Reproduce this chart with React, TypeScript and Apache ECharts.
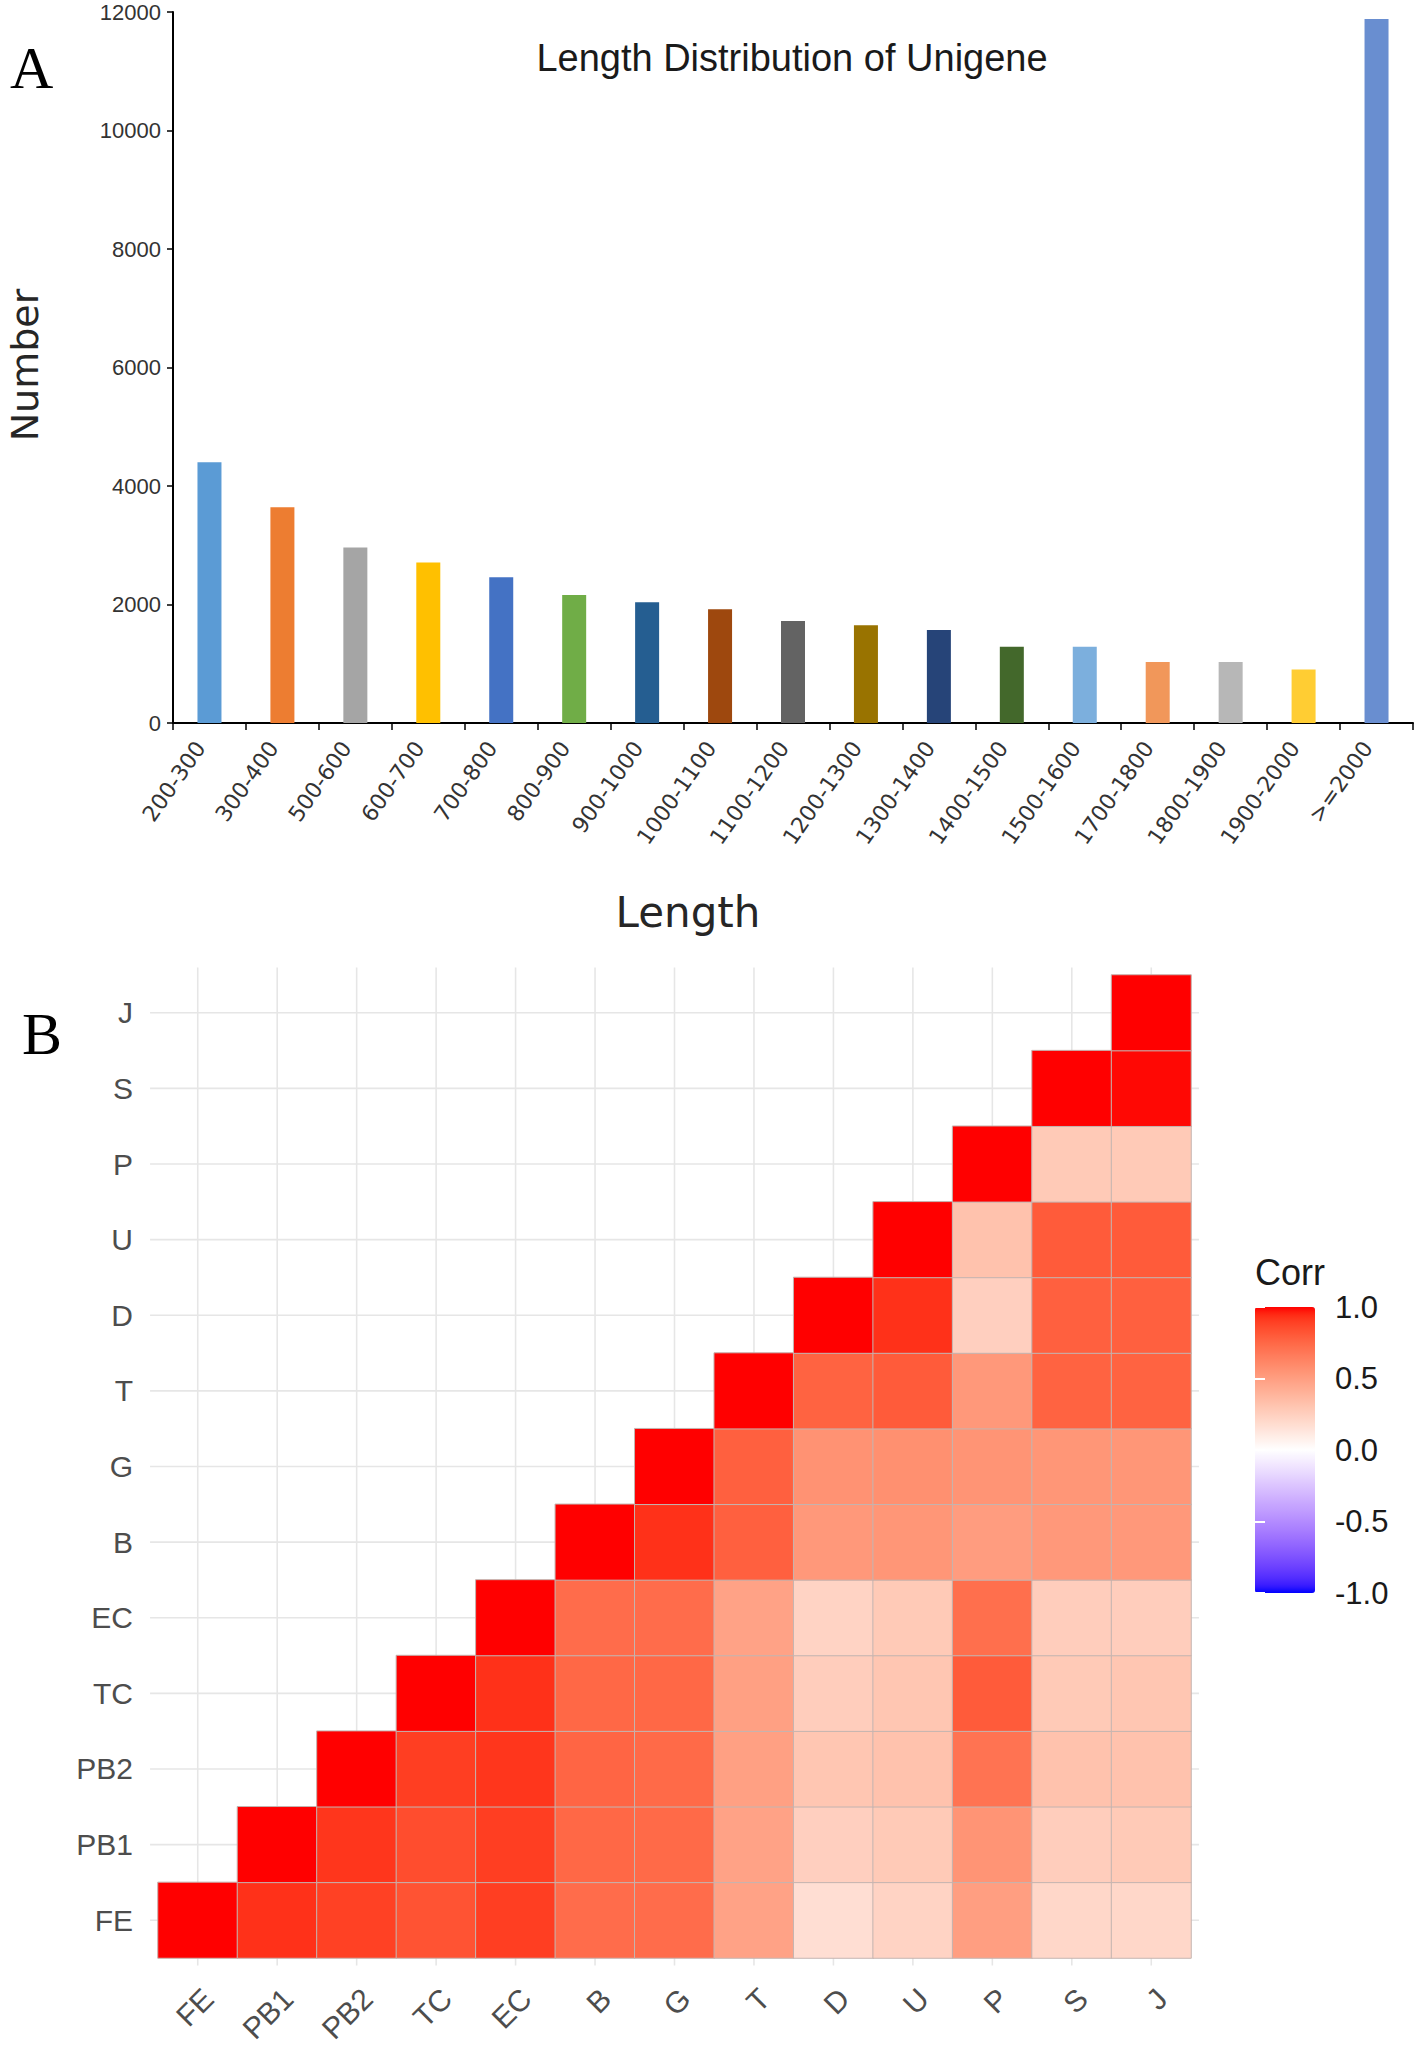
import React, { useEffect, useRef } from "react";
import * as echarts from "echarts";

// ---------- Panel A data ----------
const lengthBins = [
  "200-300", "300-400", "500-600", "600-700", "700-800", "800-900", "900-1000",
  "1000-1100", "1100-1200", "1200-1300", "1300-1400", "1400-1500", "1500-1600",
  "1700-1800", "1800-1900", "1900-2000", ">=2000",
];
const unigeneCounts = [
  4400, 3640, 2960, 2710, 2460, 2160, 2040, 1920, 1720, 1650, 1570, 1285, 1285,
  1030, 1030, 905, 11880,
];
const barColors = [
  "#5B9BD5", "#ED7D31", "#A5A5A5", "#FFC000", "#4472C4", "#70AD47", "#255E91",
  "#9E480E", "#636363", "#997300", "#264478", "#43682B", "#7CAFDD", "#F1975A",
  "#B7B7B7", "#FFCD33", "#698ED0",
];
const countAxisMin = 0;
const countAxisMax = 12000;
const countAxisStep = 2000;

// ---------- Panel B data ----------
const samples = ["FE", "PB1", "PB2", "TC", "EC", "B", "G", "T", "D", "U", "P", "S", "J"];
// each row starts at the diagonal (column index = row index)
const corrFE = [1.0, 0.93, 0.89, 0.83, 0.9, 0.73, 0.73, 0.48, 0.17, 0.23, 0.5, 0.21, 0.21];
const corrPB1 = [1.0, 0.92, 0.85, 0.9, 0.75, 0.74, 0.48, 0.25, 0.28, 0.55, 0.26, 0.28];
const corrPB2 = [1.0, 0.9, 0.92, 0.76, 0.74, 0.49, 0.3, 0.32, 0.7, 0.32, 0.32];
const corrTC = [1.0, 0.93, 0.75, 0.75, 0.49, 0.26, 0.3, 0.8, 0.28, 0.3];
const corrEC = [1.0, 0.73, 0.73, 0.48, 0.23, 0.28, 0.72, 0.26, 0.26];
const corrB = [1.0, 0.93, 0.78, 0.53, 0.54, 0.51, 0.53, 0.53];
const corrG = [1.0, 0.78, 0.56, 0.57, 0.55, 0.54, 0.54];
const corrT = [1.0, 0.77, 0.8, 0.53, 0.77, 0.77];
const corrD = [1.0, 0.93, 0.25, 0.78, 0.78];
const corrU = [1.0, 0.32, 0.8, 0.8];
const corrP = [1.0, 0.28, 0.28];
const corrS = [1.0, 0.99];
const corrJ = [1.0];
const corrRows = [corrFE, corrPB1, corrPB2, corrTC, corrEC, corrB, corrG, corrT, corrD, corrU, corrP, corrS, corrJ];
const corrTicks = [-1, -0.5, 0, 0.5, 1];

// ---------- colour helpers (ggplot-like Lab interpolation) ----------
const XN = 0.95047, ZN = 1.08883;
function toLin(c: number) {
  c /= 255;
  return c <= 0.04045 ? c / 12.92 : Math.pow((c + 0.055) / 1.055, 2.4);
}
function toSrgb(c: number) {
  c = Math.max(0, Math.min(1, c));
  const v = c <= 0.0031308 ? 12.92 * c : 1.055 * Math.pow(c, 1 / 2.4) - 0.055;
  return Math.round(v * 255);
}
function hexToLab(hex: string) {
  const r = toLin(parseInt(hex.slice(1, 3), 16));
  const g = toLin(parseInt(hex.slice(3, 5), 16));
  const b = toLin(parseInt(hex.slice(5, 7), 16));
  const X = (0.4124 * r + 0.3576 * g + 0.1805 * b) / XN;
  const Y = 0.2126 * r + 0.7152 * g + 0.0722 * b;
  const Z = (0.0193 * r + 0.1192 * g + 0.9505 * b) / ZN;
  const f = (t: number) => (t > 0.008856 ? Math.cbrt(t) : 7.787 * t + 16 / 116);
  const fx = f(X), fy = f(Y), fz = f(Z);
  return [116 * fy - 16, 500 * (fx - fy), 200 * (fy - fz)];
}
function labToHex(L: number, a: number, bb: number) {
  const fy = (L + 16) / 116;
  const fx = fy + a / 500;
  const fz = fy - bb / 200;
  const inv = (t: number) => (t * t * t > 0.008856 ? t * t * t : (t - 16 / 116) / 7.787);
  const X = XN * inv(fx), Y = inv(fy), Z = ZN * inv(fz);
  const r = 3.2406 * X - 1.5372 * Y - 0.4986 * Z;
  const g = -0.9689 * X + 1.8758 * Y + 0.0415 * Z;
  const b = 0.0557 * X - 0.204 * Y + 1.057 * Z;
  const h = (n: number) => toSrgb(n).toString(16).padStart(2, "0");
  return "#" + h(r) + h(g) + h(b);
}
function labMix(c1: string, c2: string, t: number) {
  const a = hexToLab(c1), b = hexToLab(c2);
  return labToHex(a[0] + (b[0] - a[0]) * t, a[1] + (b[1] - a[1]) * t, a[2] + (b[2] - a[2]) * t);
}
const corrStops: string[] = [];
for (let i = 0; i <= 40; i++) {
  const v = -1 + i * 0.05;
  corrStops.push(v < 0 ? labMix("#FFFFFF", "#0000FF", -v) : labMix("#FFFFFF", "#FF0000", v));
}

export default function App() {
  const ref = useRef<HTMLDivElement>(null);
  useEffect(() => {
    const chart = echarts.init(ref.current!, null, { renderer: "svg" });

    const heatData: number[][] = [];
    corrRows.forEach((row, y) => row.forEach((v, k) => heatData.push([y + k, y, v])));
    const n = samples.length;

    const option: any = {
      animation: false,
      backgroundColor: "#ffffff",
      grid: [
        { left: 173, top: 12, width: 1240, height: 711, outerBoundsMode: "none" },
        { left: 158, top: 975, width: 1033, height: 983, outerBoundsMode: "none" },
        { left: 1255, top: 1307, width: 60, height: 286, outerBoundsMode: "none" },
      ],
      xAxis: [
        {
          gridIndex: 0,
          type: "category",
          data: lengthBins,
          boundaryGap: true,
          axisLine: { show: true, lineStyle: { color: "#000", width: 2 } },
          axisTick: { show: true, length: 7, lineStyle: { color: "#000", width: 1.5 } },
          axisLabel: {
            interval: 0,
            rotate: 55,
            margin: 27,
            fontSize: 22,
            fontFamily: "DejaVu Sans",
            color: "#333",
            align: "right",
            verticalAlign: "bottom",
          },
          splitLine: { show: false },
        },
        {
          gridIndex: 1,
          type: "category",
          data: samples,
          boundaryGap: true,
          axisLine: { show: false },
          axisTick: { show: false },
          axisLabel: {
            interval: 0,
            rotate: 45,
            margin: 25,
            fontSize: 30,
            fontFamily: "Liberation Sans",
            color: "#4D4D4D",
            align: "right",
            verticalAlign: "top",
          },
          splitLine: { show: false },
        },
        { gridIndex: 2, type: "value", show: false, min: 0, max: 1 },
      ],
      yAxis: [
        {
          gridIndex: 0,
          type: "value",
          min: countAxisMin,
          max: countAxisMax,
          interval: countAxisStep,
          axisLine: { show: true, lineStyle: { color: "#000", width: 2 } },
          axisTick: { show: true, length: 6, lineStyle: { color: "#000", width: 1.5 } },
          axisLabel: {
            margin: 12,
            fontSize: 22,
            fontFamily: "Liberation Sans",
            color: "#333",
            formatter: (v: number) => String(v),
          },
          splitLine: { show: false },
        },
        {
          gridIndex: 1,
          type: "category",
          data: samples,
          boundaryGap: true,
          axisLine: { show: false },
          axisTick: { show: false },
          axisLabel: {
            interval: 0,
            margin: 25,
            fontSize: 30,
            fontFamily: "Liberation Sans",
            color: "#4D4D4D",
          },
          splitLine: { show: false },
        },
        {
          gridIndex: 2,
          type: "value",
          position: "right",
          min: corrTicks[0],
          max: corrTicks[corrTicks.length - 1],
          interval: 0.5,
          z: 10,
          axisLine: { show: false },
          axisTick: { show: true, inside: true, length: 10, lineStyle: { color: "#ffffff", width: 2 } },
          axisLabel: {
            margin: 20,
            fontSize: 31,
            fontFamily: "Liberation Sans",
            color: "#1A1A1A",
            formatter: (v: number) => v.toFixed(1),
          },
          splitLine: { show: false },
        },
        {
          gridIndex: 2,
          type: "value",
          position: "left",
          min: corrTicks[0],
          max: corrTicks[corrTicks.length - 1],
          interval: 0.5,
          z: 10,
          axisLine: { show: false },
          axisTick: { show: true, inside: true, length: 10, lineStyle: { color: "#ffffff", width: 2 } },
          axisLabel: { show: false },
          splitLine: { show: false },
        },
      ],
      visualMap: {
        type: "continuous",
        seriesIndex: 2,
        dimension: 2,
        min: -1,
        max: 1,
        orient: "vertical",
        left: 1255,
        top: 1307,
        itemWidth: 60,
        itemHeight: 286,
        padding: 0,
        calculable: false,
        inRange: { color: corrStops },
      },
      series: [
        {
          type: "bar",
          xAxisIndex: 0,
          yAxisIndex: 0,
          barWidth: 24,
          data: unigeneCounts.map((v, i) => ({ value: v, itemStyle: { color: barColors[i] } })),
        },
        {
          type: "custom",
          xAxisIndex: 1,
          yAxisIndex: 1,
          clip: false,
          silent: true,
          z: 1,
          data: samples.map((_, i) => [i, i]),
          renderItem: (params: any, api: any) => {
            const i = api.value(0);
            const c = api.coord([i, i]);
            const size = api.size([1, 1]);
            const first = api.coord([0, 0]);
            const last = api.coord([n - 1, n - 1]);
            const ext = 0.6;
            const x0 = first[0] - ext * size[0];
            const x1 = last[0] + ext * size[0];
            const y0 = first[1] + ext * size[1];
            const y1 = last[1] - ext * size[1];
            const st = { stroke: "#E6E6E6", lineWidth: 1.6 };
            return {
              type: "group",
              children: [
                { type: "line", shape: { x1: c[0], y1: y0, x2: c[0], y2: y1 }, style: st },
                { type: "line", shape: { x1: x0, y1: c[1], x2: x1, y2: c[1] }, style: st },
              ],
            };
          },
        },
        {
          type: "heatmap",
          xAxisIndex: 1,
          yAxisIndex: 1,
          z: 2,
          data: heatData,
          itemStyle: { borderColor: "#C4B4B0", borderWidth: 1 },
        },
        { type: "scatter", xAxisIndex: 2, yAxisIndex: 2, data: [] },
      ],
      graphic: [
        {
          type: "text", x: 10, y: 68, z: 100,
          style: { text: "A", fontSize: 60, fontFamily: "Liberation Serif", fill: "#000",
            align: "left", verticalAlign: "middle", textAlign: "left", textVerticalAlign: "middle" },
        },
        {
          type: "text", x: 22, y: 1034, z: 100,
          style: { text: "B", fontSize: 60, fontFamily: "Liberation Serif", fill: "#000",
            align: "left", verticalAlign: "middle", textAlign: "left", textVerticalAlign: "middle" },
        },
        {
          type: "text", x: 792, y: 58, z: 100,
          style: { text: "Length Distribution of Unigene", fontSize: 38, fontFamily: "Liberation Sans", fill: "#1A1A1A",
            align: "center", verticalAlign: "middle", textAlign: "center", textVerticalAlign: "middle" },
        },
        {
          type: "text", x: 688, y: 912, z: 100,
          style: { text: "Length", fontSize: 42, fontFamily: "DejaVu Sans", fill: "#262626",
            align: "center", verticalAlign: "middle", textAlign: "center", textVerticalAlign: "middle" },
        },
        {
          type: "text", x: 25, y: 365, rotation: Math.PI / 2, z: 100,
          style: { text: "Number", fontSize: 38, fontFamily: "DejaVu Sans", fill: "#262626",
            align: "center", verticalAlign: "middle", textAlign: "center", textVerticalAlign: "middle" },
        },
        {
          type: "text", x: 1255, y: 1272, z: 100,
          style: { text: "Corr", fontSize: 36, fontFamily: "Liberation Sans", fill: "#1A1A1A",
            align: "left", verticalAlign: "middle", textAlign: "left", textVerticalAlign: "middle" },
        },
      ],
    };

    chart.setOption(option);
    return () => chart.dispose();
  }, []);

  return (
    <div
      ref={ref}
      style={{ position: "absolute", left: 0, top: 0, width: 1416, height: 2045, background: "#ffffff" }}
    />
  );
}
